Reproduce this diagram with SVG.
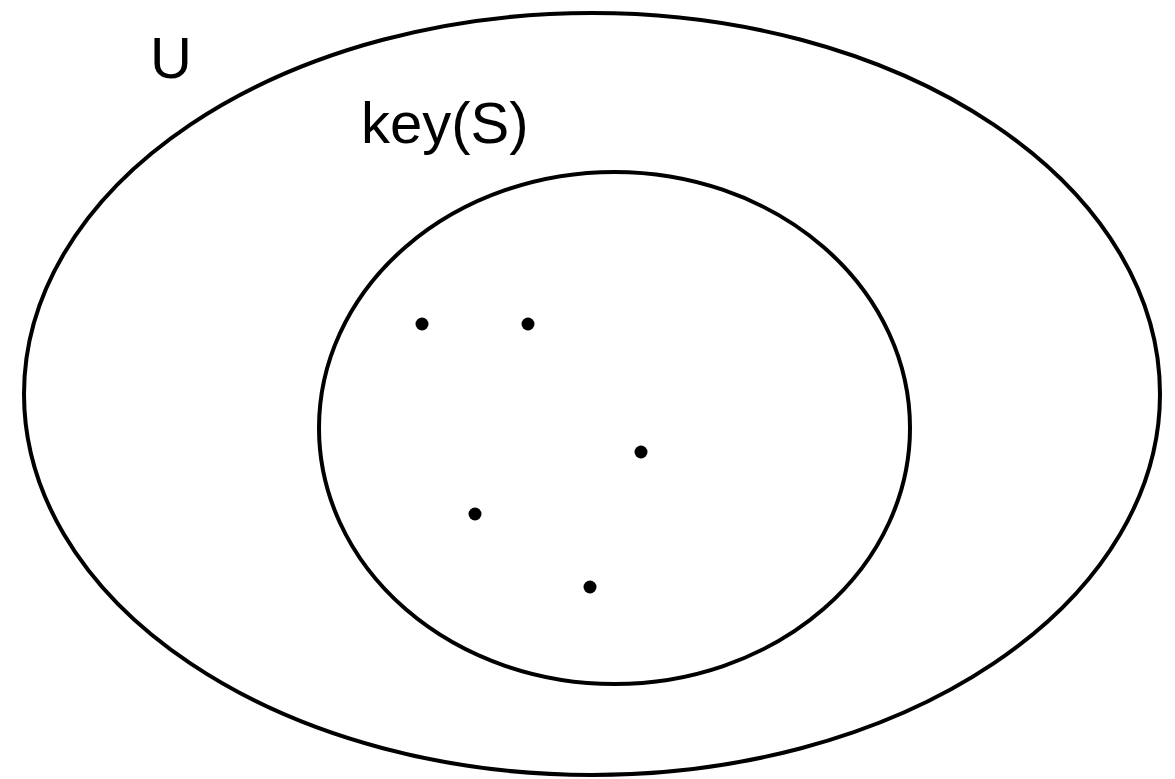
<svg xmlns="http://www.w3.org/2000/svg" width="1175" height="779" viewBox="0 0 1175 779">
<style>
.set{fill:none;stroke:#000;stroke-width:4}
.pt{fill:#000}
.lbl{font-family:"Liberation Sans",Arial,sans-serif;font-size:58px;fill:#000}
</style>
<rect width="1175" height="779" fill="#fff"/>
<g id="universe">
<ellipse class="set" cx="592" cy="394" rx="568" ry="381"/>
<text class="lbl" x="150" y="78">U</text>
</g>
<g id="keyS">
<ellipse class="set" cx="614.5" cy="428" rx="295.5" ry="256"/>
<text class="lbl" x="361" y="143">key(S)</text>
</g>
<g id="points">
<circle class="pt" cx="422" cy="324" r="6.5"/>
<circle class="pt" cx="528" cy="324" r="6.5"/>
<circle class="pt" cx="641" cy="452" r="6.5"/>
<circle class="pt" cx="475" cy="514" r="6.5"/>
<circle class="pt" cx="590" cy="587" r="6.5"/>
</g>
</svg>
